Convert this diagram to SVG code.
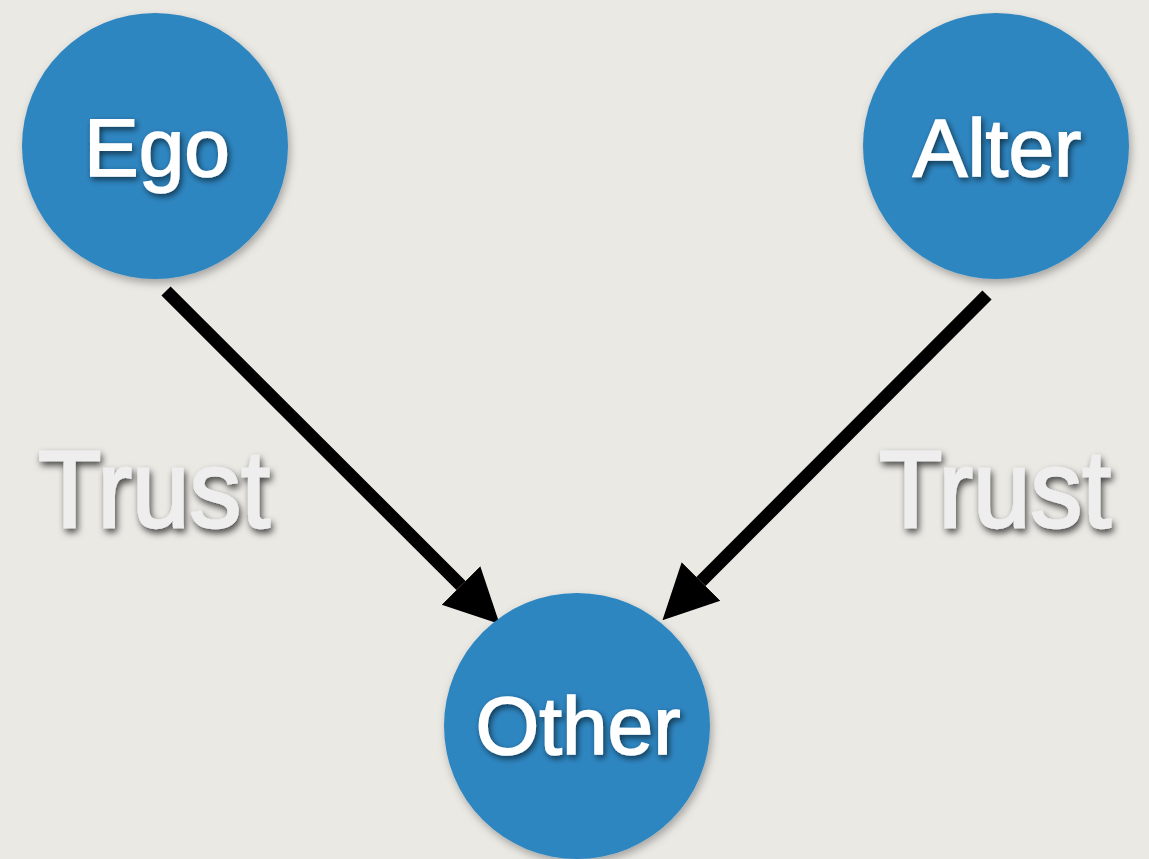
<svg xmlns="http://www.w3.org/2000/svg" width="1149" height="859" viewBox="0 0 1149 859">
  <defs>
    <filter id="circShadow" x="-20%" y="-20%" width="140%" height="140%">
      <feDropShadow dx="2" dy="4" stdDeviation="4" flood-color="#000" flood-opacity="0.3"/>
    </filter>
    <filter id="textShadow" x="-20%" y="-30%" width="140%" height="160%">
      <feDropShadow dx="2" dy="3" stdDeviation="3" flood-color="#000" flood-opacity="0.6"/>
    </filter>
    <filter id="trustShadow" x="-20%" y="-30%" width="140%" height="160%">
      <feDropShadow dx="2" dy="4" stdDeviation="3.5" flood-color="#000" flood-opacity="0.7"/>
    </filter>
    <marker id="head" viewBox="0 0 10 10" refX="0" refY="5" markerWidth="4.2" markerHeight="4.3" markerUnits="strokeWidth" orient="auto">
      <path d="M0,0 L10,5 L0,10 z" fill="#000"/>
    </marker>
    <style>
      .node { fill: #2e86c1; filter: url(#circShadow); }
      .label { font-family: "Liberation Sans", Arial, sans-serif; font-size: 82px; fill: #ffffff; stroke: #ffffff; stroke-width: 1.5; text-anchor: middle; filter: url(#textShadow); }
      .edge-label { font-family: "Liberation Sans", Arial, sans-serif; font-size: 110px; fill: #eeeeee; stroke: #eeeeee; stroke-width: 2.5; filter: url(#trustShadow); }
      .edge { stroke: #000; stroke-width: 13; fill: none; marker-end: url(#head); }
    </style>
  </defs>
  <rect x="0" y="0" width="1149" height="859" fill="#ebe9e4"/>
  <g id="connectors">
    <path class="edge" d="M166,291 L461,585.5"/>
    <path class="edge" d="M987,295 L701,581.5"/>
  </g>
  <g id="node-ego">
    <circle class="node" cx="155" cy="146" r="133"/>
    <text class="label" x="157" y="176">Ego</text>
  </g>
  <g id="node-alter">
    <circle class="node" cx="996" cy="146" r="133"/>
    <text class="label" x="997" y="176">Alter</text>
  </g>
  <g id="node-other">
    <circle class="node" cx="577" cy="726" r="133"/>
    <text class="label" x="578" y="754">Other</text>
  </g>
  <g id="edge-labels">
    <text class="edge-label" x="38" y="527" textLength="232" lengthAdjust="spacingAndGlyphs">Trust</text>
    <text class="edge-label" x="879" y="527" textLength="232" lengthAdjust="spacingAndGlyphs">Trust</text>
  </g>
</svg>
